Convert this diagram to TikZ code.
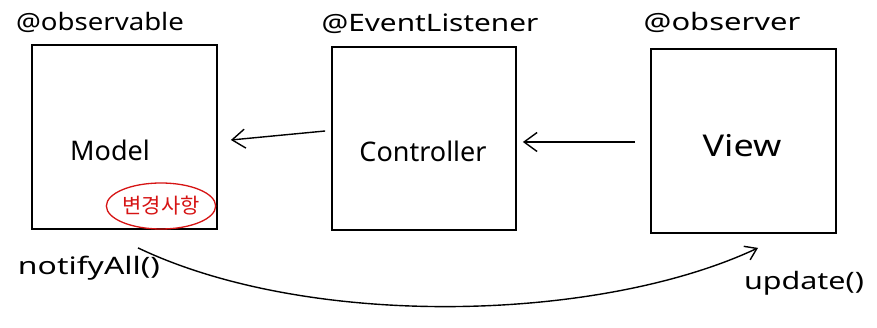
\documentclass[tikz,border=0pt]{standalone}
\usepackage{graphicx}
\usepackage{fontspec}
\setmainfont{Noto Sans}
\newfontfamily\krfont{Noto Sans CJK KR}
\usetikzlibrary{arrows.meta,calc,shapes.geometric}
\definecolor{inkred}{RGB}{214,20,20}
\newcommand{\wide}[2]{\scalebox{#1}[1]{#2}}
\tikzset{
  ink/.style={line width=1.4pt, black},
  comp/.style={draw, line width=1.8pt, minimum width=185pt, minimum height=184pt, inner sep=0pt},
  label24/.style={font=\fontsize{24}{28}\selectfont, inner sep=0pt},
  flow/.style={ink, -{Straight Barb[length=13pt,width=19pt,line width=1.4pt]}},
}
\begin{document}
\begin{tikzpicture}[x=1pt,y=-1pt]
  \useasboundingbox (0,0) rectangle (877,328);

  % components
  \node[comp] (model) at (124.5,137) {};
  \node[comp, minimum width=184pt, minimum height=183pt] (ctrl) at (424,138.5) {};
  \node[comp] (view) at (743.5,141) {};

  \node[label24, font=\fontsize{27}{30}\selectfont] (modeltxt) at (110,150) {Model};
  \node[label24, font=\fontsize{27}{30}\selectfont] (ctrltxt) at (423,151) {Controller};
  \node[label24, font=\fontsize{30}{34}\selectfont] (viewtxt) at (742,146) {\wide{1.2}{View}};

  % annotations above the boxes
  \node[label24] (tobs) at (100,22) {\wide{1.15}{@observable}};
  \node[label24] (tlis) at (430,24) {\wide{1.24}{@EventListener}};
  \node[label24] (tobr) at (722,22) {\wide{1.29}{@observer}};

  % change marker
  \node[ellipse, draw=inkred, line width=1.3pt, minimum width=102pt, minimum height=46pt,
        inner sep=0pt, text=inkred, font=\krfont\fontsize{21}{24}\selectfont] (chg) at (161,206) {변경사항};

  % dependencies
  \draw[flow] ($(ctrl.west)+(-6,-7.5)$) -- ($(model.east)+(13,3)$);
  \draw[flow] ($(view.west)+(-15,1)$) -- ($(ctrl.east)+(6,3.5)$);

  % notification path
  \coordinate (nstart) at ($(model.south)+(13.5,18)$);
  \coordinate (nend) at ($(view.south)+(14.5,14)$);
  \draw[ink, -{Straight Barb[length=11pt,width=15pt,line width=1.4pt]}]
    (nstart) .. controls (310,330) and (600,322) .. (nend);

  \node[label24] (notify) at (89,268) {\wide{1.33}{notifyAll()}};
  \node[label24] (update) at (804,283) {\wide{1.27}{update()}};
\end{tikzpicture}
\end{document}
